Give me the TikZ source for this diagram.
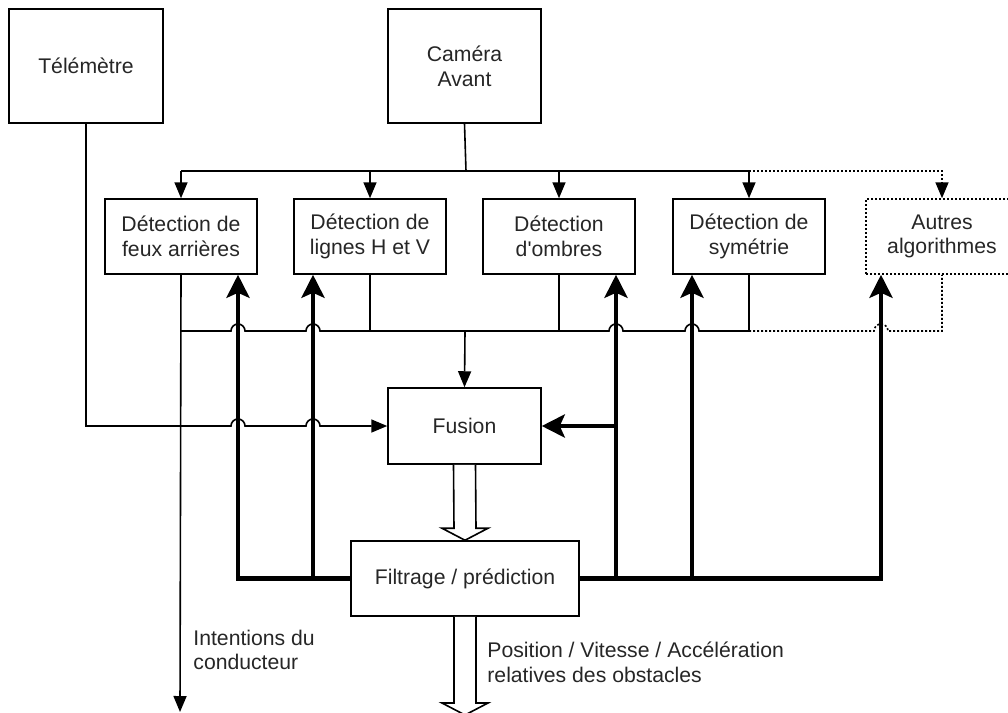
\documentclass[tikz,border=0pt]{standalone}
\usepackage{fontspec}
\setmainfont{Liberation Sans}
\usetikzlibrary{arrows.meta,calc}

\tikzset{
  bloc/.style={draw, line width=0.75pt, minimum width=76pt, minimum height=37.5pt,
    align=center, text=black!85, font=\fontsize{10.6pt}{12.4pt}\selectfont},
  autre/.style={bloc, dash pattern=on 1pt off 1pt},
  texte/.style={align=left, anchor=west, inner sep=0pt, text=black!85,
    font=\fontsize{10.6pt}{12.4pt}\selectfont},
  fil/.style={line width=0.8pt},
  fleche/.style={fil, -{Triangle[length=8pt,width=6.5pt]}},
  pointille/.style={fil, dash pattern=on 1pt off 1pt},
  gros/.style={line width=2.25pt, -{Stealth[length=11.5pt,width=11.5pt,inset=2.5pt]}},
}

% small jump where a thin line crosses a thick one
\newcommand{\saut}[1]{-- ([xshift=-3.5pt]#1) arc[start angle=180,end angle=0,radius=3.5pt]}
% hollow block arrow, vertical, from #1 down to #2
\newcommand{\creuse}[2]{%
  \draw[fil, fill=white] ($(#1)+(-11,0)$) -- ($(#2)+(-11,-12)$) -- ($(#2)+(-23,-12)$)
    -- (#2) -- ($(#2)+(23,-12)$) -- ($(#2)+(11,-12)$) -- ($(#1)+(11,0)$);}

\begin{document}
\begin{tikzpicture}[x=0.5pt,y=-0.5pt]

  \useasboundingbox (0,0) rectangle (1008,713);

  % capteurs
  \node[bloc, minimum width=77pt, minimum height=57pt] (telemetre) at (86,66) {Télémètre};
  \node[bloc, minimum width=76.5pt, minimum height=57pt] (camera) at (464.5,66) {Caméra\\Avant};

  % algorithmes de detection
  \node[bloc] (feux) at (181,236.5) {Détection de\\feux arrières};
  \node[bloc] (lignes) at (370,236.5) {Détection de\\lignes H et V};
  \node[bloc] (ombres) at (559,236.5) {Détection\\d\textquotesingle ombres};
  \node[bloc] (symetrie) at (749,236.5) {Détection de\\symétrie};
  \node[autre] (autres) at (942,236.5) {Autres\\algorithmes};

  \node[bloc, minimum width=76.5pt, minimum height=38pt] (fusion) at (464.5,426) {Fusion};
  \node[bloc, minimum width=114pt] (filtre) at (465,578.5) {Filtrage / prédiction};

  \coordinate (bh) at (466,171);
  \coordinate (bb) at (465,331);
  \coordinate (r1) at (238,578);
  \coordinate (r2) at (313,578);
  \coordinate (r3) at (616,578);
  \coordinate (r4) at (692,578);
  \coordinate (r5) at (881,578);
  \coordinate (intention) at (180,712);
  \coordinate (sortie) at (465,715);

  % camera vers les algorithmes
  \draw[fil] (camera.south) -- (bh);
  \draw[fil] (bh -| feux) -- (bh -| symetrie);
  \foreach \n in {feux,lignes,ombres,symetrie}
    \draw[fleche] (bh -| \n) -- (\n.north);
  \draw[pointille, -{Triangle[length=8pt,width=6.5pt]}] (bh -| symetrie) -| (autres.north);

  % sorties des algorithmes vers la fusion
  \draw[fil] (feux.south |- bb) \saut{r1 |- bb} \saut{r2 |- bb} -- (bb -| ombres)
    \saut{r3 |- bb} \saut{r4 |- bb} -- (bb -| symetrie);
  \foreach \n in {lignes,ombres,symetrie}
    \draw[fil] (\n.south) -- (\n.south |- bb);
  \draw[pointille] (bb -| symetrie) \saut{r5 |- bb} -- (bb -| autres) -- (autres.south);
  \draw[fleche] (bb) -- (fusion.north);

  % telemetre
  \draw[fleche] (telemetre.south) |- ([xshift=-3.5pt]r1 |- fusion.west)
    arc[start angle=180,end angle=0,radius=3.5pt] \saut{r2 |- fusion.west} -- (fusion.west);

  % intentions du conducteur
  \draw[fleche] (feux.south) -- (intention);
  \node[texte] (intentions) at (193,650) {Intentions du\\conducteur};

  % retour du filtrage vers les algorithmes
  \draw[gros] (filtre.west) -| (r1 |- feux.south);
  \draw[gros] (r2) -- (r2 |- lignes.south);
  \draw[gros] (filtre.east) -| (r5 |- autres.south);
  \draw[gros] (r3) -- (r3 |- ombres.south);
  \draw[gros] (r4) -- (r4 |- symetrie.south);
  \draw[gros] (r3 |- fusion.east) -- (fusion.east);

  % fleches creuses
  \creuse{fusion.south}{filtre.north}
  \creuse{filtre.south}{sortie}
  \node[texte] (position) at (487,662) {Position / Vitesse / Accélération\\relatives des obstacles};

\end{tikzpicture}
\end{document}
